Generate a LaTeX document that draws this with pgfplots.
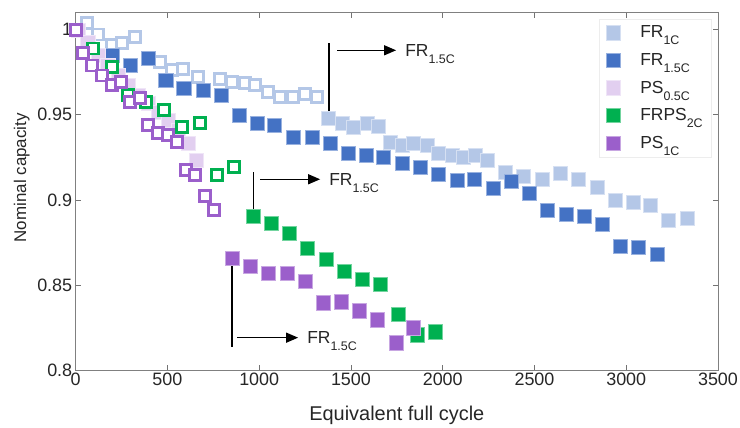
\documentclass[border=0pt]{standalone}
\usepackage{fontspec}
\setmainfont{Liberation Sans}
\usepackage{pgfplots}
\pgfplotsset{compat=1.18}
\usetikzlibrary{arrows.meta}
\definecolor{fra}{HTML}{B4C7E7}
\definecolor{frb}{HTML}{4472C4}
\definecolor{psa}{HTML}{E2CFF0}
\definecolor{frps}{HTML}{00B050}
\definecolor{psb}{HTML}{9B5FCB}
\definecolor{txt}{HTML}{262626}
\newcommand\sub[1]{\raisebox{-7bp}{\fontsize{12.5}{12.5}\selectfont #1}}
\pgfplotsset{
  openmk/.style={only marks, mark=square*, mark size=5.5bp, mark options={line width=2.8bp, draw=#1, fill=white}},
  fillmk/.style={only marks, mark=square*, mark size=7.2bp, mark options={line width=0.6bp, draw=#1!55!white, fill=#1}},
}
\begin{document}
\begin{tikzpicture}
\begin{axis}[
  scale only axis, width=642.3bp, height=357.3bp,
  xmin=0, xmax=3500, ymin=0.8, ymax=1.01,
  xtick={0,500,1000,1500,2000,2500,3000,3500},
  xticklabels={0,500,1000,1500,2000,2500,3000,3500},
  ytick={0.8,0.85,0.9,0.95,1},
  yticklabels={0.8,0.85,0.9,0.95,1},
  /pgf/number format/assume math mode=true,
  tick label style={font=\fontsize{18}{20}\selectfont, text=txt},
  xticklabel style={inner sep=1.5bp, yshift=-1bp},
  major tick length=5bp,
  tick style={black!55, line width=0.6bp},
  axis line style={black!50, line width=0.7bp},
  xlabel={Equivalent full cycle},
  ylabel={Nominal capacity},
  xlabel style={font=\fontsize{20}{22}\selectfont, text=txt, at={(axis description cs:0.5,-0.14)}, anchor=base},
  ylabel style={font=\fontsize{17}{18}\selectfont, text=txt, at={(axis description cs:-0.077,0.538)}, anchor=base, rotate=0},
  legend cell align=left,
  legend style={at={(axis description cs:0.815,0.983)}, anchor=north west,
    draw=black!7, fill=white, font=\fontsize{17.5}{20}\selectfont, text=txt,
    nodes={inner sep=2bp}, row sep=10bp, inner xsep=6.5bp, inner ysep=5bp,
    /tikz/every odd column/.append style={column sep=18bp}},
]
% FR1C open
\addplot[openmk=fra, forget plot] coordinates {
(60,1.0039) (122,0.9972) (198,0.9908) (252,0.9920) (323,0.9955) (460,0.9808)
(525,0.9761) (585,0.9767) (667,0.9720) (787,0.9708) (852,0.9691) (923,0.9685)
(978,0.9673) (1048,0.9632) (1114,0.9603) (1185,0.9603) (1250,0.9620) (1316,0.9603)};
% FR1C filled
\addplot[fillmk=fra] coordinates {
(1376,0.9479) (1452,0.9450) (1512,0.9426) (1588,0.9450) (1648,0.9433) (1714,0.9339)
(1779,0.9321) (1839,0.9333) (1915,0.9321) (1975,0.9274) (2052,0.9262) (2111,0.9251)
(2177,0.9262) (2243,0.9233) (2340,0.9162) (2438,0.9139) (2542,0.9121) (2640,0.9157)
(2738,0.9121) (2842,0.9075) (2940,0.8998) (3038,0.8987) (3131,0.8969) (3229,0.8881)
(3333,0.8893)};
\addlegendentry{FR\sub{1C}}
% FR1.5C
\addplot[fillmk=frb] coordinates {
(198,0.9849) (296,0.9790) (394,0.9832) (492,0.9702) (590,0.9655) (694,0.9644)
(792,0.9614) (890,0.9497) (988,0.9450) (1081,0.9438) (1185,0.9368) (1288,0.9368)
(1386,0.9333) (1485,0.9274) (1583,0.9262) (1675,0.9251) (1779,0.9216) (1877,0.9192)
(1975,0.9151) (2079,0.9116) (2171,0.9121) (2275,0.9069) (2373,0.9110) (2471,0.9040)
(2569,0.8940) (2673,0.8916) (2771,0.8904) (2869,0.8857) (2967,0.8728) (3066,0.8722)
(3169,0.8681)};
\addlegendentry{FR\sub{1.5C}}
% PS0.5C
\addplot[fillmk=psa] coordinates {
(13,0.9996) (67,0.9925) (122,0.9849) (176,0.9790) (231,0.9731) (285,0.9673)
(340,0.9614) (394,0.9567) (449,0.9515) (503,0.9468) (558,0.9409) (612,0.9333)
(656,0.9233)};
\addlegendentry{PS\sub{0.5C}}
% FRPS2C open
\addplot[openmk=frps, forget plot] coordinates {
(94,0.9890) (198,0.9779) (285,0.9614) (383,0.9573) (481,0.9526) (580,0.9426)
(678,0.9450) (770,0.9145) (863,0.9192)};
% FRPS2C filled
\addplot[fillmk=frps] coordinates {
(967,0.8904) (1065,0.8863) (1163,0.8804) (1261,0.8716) (1365,0.8651) (1463,0.8581)
(1561,0.8534) (1659,0.8505) (1757,0.8329) (1861,0.8206) (1959,0.8224)};
\addlegendentry{FRPS\sub{2C}}
% PS1C open
\addplot[openmk=psb, forget plot] coordinates {
(0,1.0000) (40,0.9861) (89,0.9790) (143,0.9731) (198,0.9673) (247,0.9691)
(296,0.9573) (351,0.9597) (394,0.9438) (449,0.9391) (503,0.9380) (552,0.9339)
(601,0.9174) (651,0.9145) (705,0.9022) (754,0.8940)};
% PS1C filled
\addplot[fillmk=psb] coordinates {
(852,0.8658) (950,0.8611) (1048,0.8570) (1152,0.8570) (1250,0.8523) (1348,0.8394)
(1446,0.8400) (1545,0.8347) (1643,0.8294) (1746,0.8159) (1839,0.8247)};
\addlegendentry{PS\sub{1C}}
% annotations
\draw[line width=1.3bp] (axis cs:1381,0.9920) -- (axis cs:1381,0.9485);
\draw[line width=1.3bp, -{Triangle[length=12bp,width=10bp]}] (axis cs:1425,0.9879) -- (axis cs:1746,0.9879);
\node[anchor=base west, inner sep=0pt, yshift=-6.2bp, font=\fontsize{17.5}{20}\selectfont, text=txt] at (axis cs:1795,0.9879) {FR\sub{1.5C}};
\draw[line width=1.3bp] (axis cs:967,0.9162) -- (axis cs:967,0.8904);
\draw[line width=1.3bp, -{Triangle[length=12bp,width=10bp]}] (axis cs:1005,0.9121) -- (axis cs:1332,0.9121);
\node[anchor=base west, inner sep=0pt, yshift=-6.2bp, font=\fontsize{17.5}{20}\selectfont, text=txt] at (axis cs:1381,0.9121) {FR\sub{1.5C}};
\draw[line width=1.3bp] (axis cs:852,0.8658) -- (axis cs:852,0.8137);
\draw[line width=1.3bp, -{Triangle[length=12bp,width=10bp]}] (axis cs:879,0.8190) -- (axis cs:1212,0.8190);
\node[anchor=base west, inner sep=0pt, yshift=-6.2bp, font=\fontsize{17.5}{20}\selectfont, text=txt] at (axis cs:1261,0.8190) {FR\sub{1.5C}};
\end{axis}
\path (current axis.south west) ++(-75.7bp,-56bp) rectangle ++(740bp,426bp);
\end{tikzpicture}
\end{document}
